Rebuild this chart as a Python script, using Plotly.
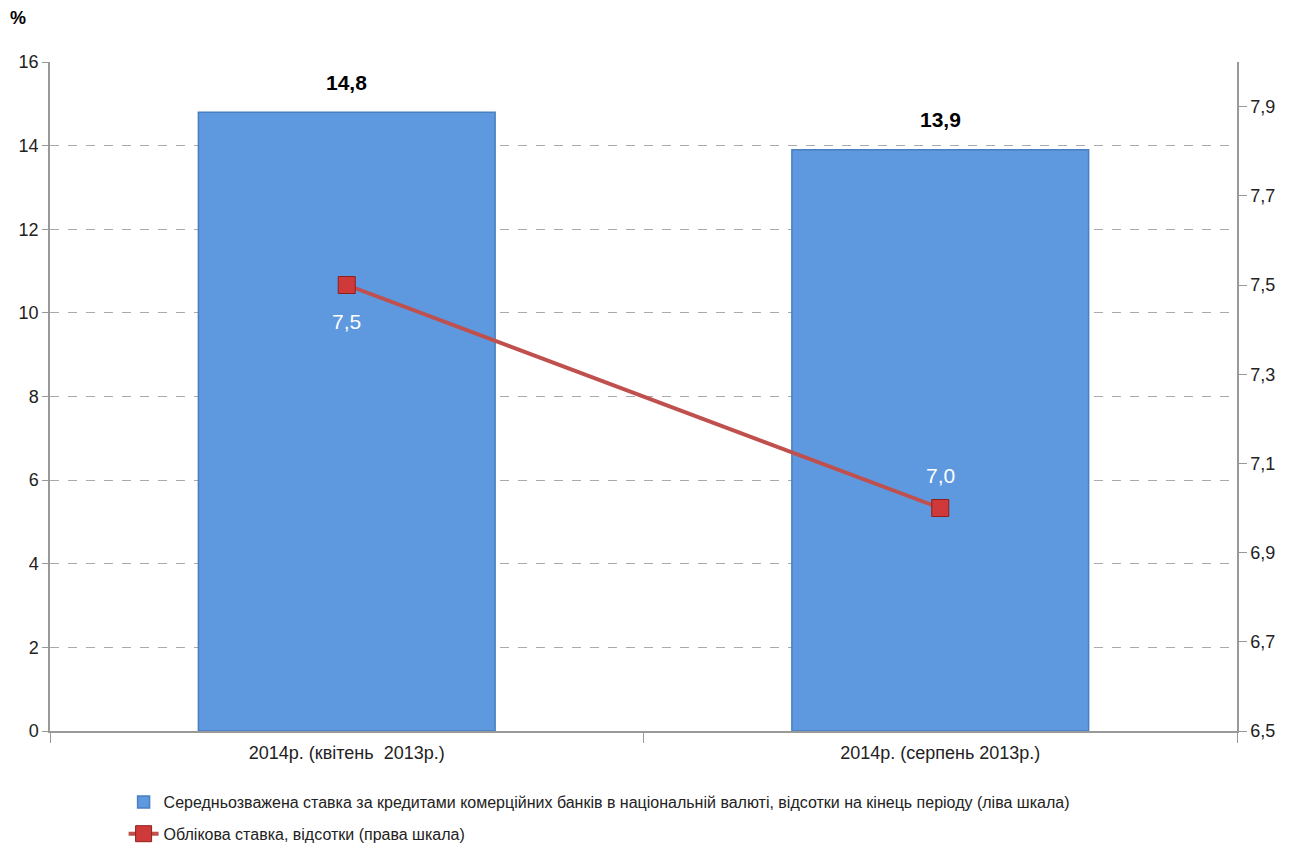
import plotly.graph_objects as go

categories = ["2014р. (квітень  2013р.)", "2014р. (серпень 2013р.)"]
loan_rate = [14.8, 13.9]
discount_rate = [7.5, 7.0]
loan_labels = ["14,8", "13,9"]
discount_labels = ["7,5", "7,0"]
right_ticks = [6.5, 6.7, 6.9, 7.1, 7.3, 7.5, 7.7, 7.9]
right_ticklabels = ["6,5", "6,7", "6,9", "7,1", "7,3", "7,5", "7,7", "7,9"]

FONT = "Liberation Sans Narrow, Arial Narrow, Liberation Sans, Arial"

fig = go.Figure()
fig.add_trace(go.Bar(
    x=categories, y=loan_rate,
    name="Середньозважена ставка за кредитами комерційних банків в національній валюті, відсотки на кінець періоду (ліва шкала)",
    legendgroup="a",
    marker=dict(color="#5E98DE", line=dict(color="#4A7FC0", width=1.5)),
    width=0.5,
))
fig.add_trace(go.Scatter(
    x=categories, y=discount_rate, yaxis="y2",
    name="Облікова ставка, відсотки (права шкала)",
    legendgroup="b",
    mode="lines+markers",
    line=dict(color="#C0504D", width=4),
    marker=dict(symbol="square", size=17, color="#D0393A", line=dict(color="#8E1F1B", width=1)),
))

annotations = []
for c, v, t in zip(categories, loan_rate, loan_labels):
    annotations.append(dict(x=c, y=v, xref="x", yref="y", text="<b>" + t + "</b>",
                            showarrow=False, yshift=30, yanchor="middle",
                            font=dict(family=FONT, size=21, color="black")))
for c, v, t, s in zip(categories, discount_rate, discount_labels, [-36, 33]):
    annotations.append(dict(x=c, y=v, xref="x", yref="y2", text=t,
                            showarrow=False, yshift=s, yanchor="middle",
                            font=dict(family=FONT, size=21, color="white")))
annotations.append(dict(
    text="<b>%</b>", x=(18 - 50) / 1187, y=(731 - 18) / 669, xref="paper", yref="paper",
    xanchor="center", yanchor="middle",
    showarrow=False, font=dict(family=FONT, size=18, color="black"),
))

fig.update_layout(
    width=1298, height=847,
    margin=dict(l=42, r=69, t=54, b=124),
    plot_bgcolor="white", paper_bgcolor="white",
    separators=", ",
    font=dict(family=FONT, size=18, color="#222222"),
    showlegend=True,
    legend=dict(
        x=0.062, xanchor="left",
        yref="container", y=1 - 777 / 847, yanchor="top",
        font=dict(family=FONT, size=16, color="#222222"),
        traceorder="grouped", tracegroupgap=8,
    ),
    xaxis=dict(
        showline=True, linecolor="#999999", linewidth=1.5,
        ticks="outside", tickson="boundaries", ticklen=10, tickcolor="#999999",
        ticklabelstandoff=5,
        tickfont=dict(family=FONT, size=18, color="#222222"),
        showgrid=False,
    ),
    yaxis=dict(
        range=[0, 16], dtick=2, tick0=0,
        showline=True, linecolor="#999999", linewidth=1.5,
        ticks="outside", ticklen=6, tickcolor="#999999",
        showgrid=True, gridcolor="#AAAAAA", griddash="dash", gridwidth=1,
        zeroline=False,
        tickfont=dict(family=FONT, size=18, color="#222222"),
    ),
    yaxis2=dict(
        overlaying="y", side="right", range=[6.5, 8.0],
        tickvals=right_ticks, ticktext=right_ticklabels,
        showline=True, linecolor="#999999", linewidth=1.5,
        ticks="outside", ticklen=8, tickcolor="#999999",
        showgrid=False, zeroline=False,
        tickfont=dict(family=FONT, size=18, color="#222222"),
    ),
    annotations=annotations,
)

fig.write_html("out.html")
